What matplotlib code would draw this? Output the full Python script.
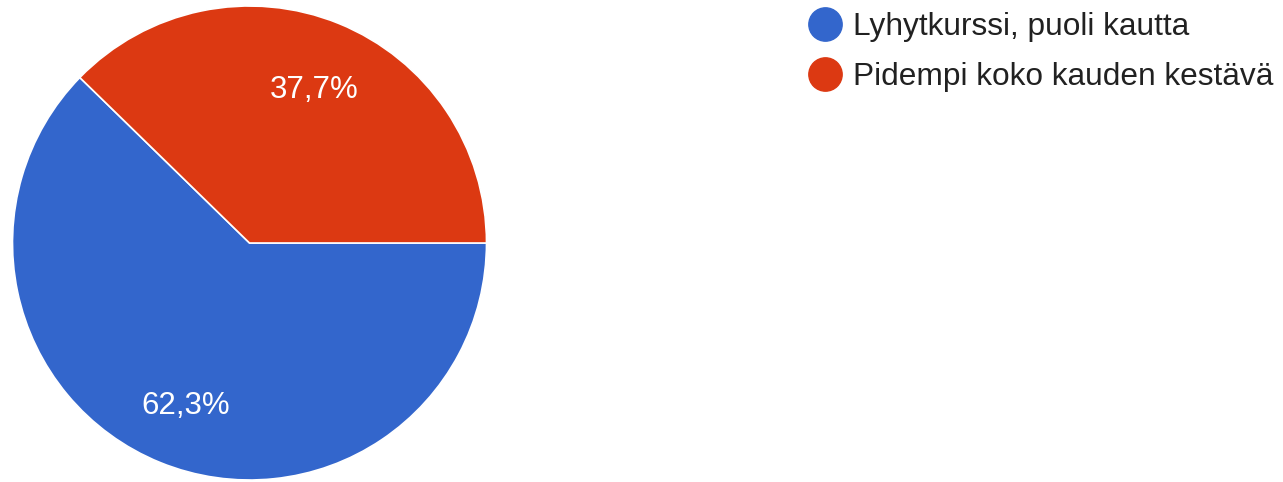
import matplotlib
matplotlib.use("Agg")
import matplotlib.pyplot as plt
from matplotlib.lines import Line2D

plt.rcParams['font.family'] = ['Liberation Sans', 'DejaVu Sans']

# data
labels = ["Lyhytkurssi, puoli kautta", "Pidempi koko kauden kestävä"]
shares = [62.3, 37.7]
colors = ["#3366CC", "#DC3912"]

W, H = 1283, 482
fig = plt.figure(figsize=(W / 100, H / 100), dpi=100)

# pie axes: circle centre (249.5, 243) px, radius 237 px
cx, cy, r = 249.5, 243, 237
ax = fig.add_axes([(cx - r) / W, (H - cy - r) / H, 2 * r / W, 2 * r / H])

def fmt(p):
    return f"{p:.1f}%".replace(".", ",")

wedges, texts, autotexts = ax.pie(
    shares, colors=colors, startangle=0, counterclock=False,
    autopct=fmt, pctdistance=0.72,
    wedgeprops=dict(edgecolor="white", linewidth=1.2),
    textprops=dict(color="white", fontsize=22.5))
# nudge the percentage labels a little lower
for t in autotexts:
    x, y = t.get_position()
    t.set_position((x, y - 0.021))
ax.set_xlim(-1, 1)
ax.set_ylim(-1, 1)
ax.axis("off")

# legend with round markers
handles = [Line2D([], [], linestyle="none", marker="o", markersize=24,
                  markerfacecolor=c, markeredgecolor=c) for c in colors]
ax.legend(handles, labels, loc="upper left",
          bbox_to_anchor=(809.5 / W, 1 - 12 / H), bbox_transform=fig.transFigure,
          frameon=False, fontsize=22.75, labelcolor="#212121",
          handlelength=1.0, handletextpad=0.38, labelspacing=0.64,
          borderpad=0, borderaxespad=0)

fig.savefig("out.png", dpi=100)
